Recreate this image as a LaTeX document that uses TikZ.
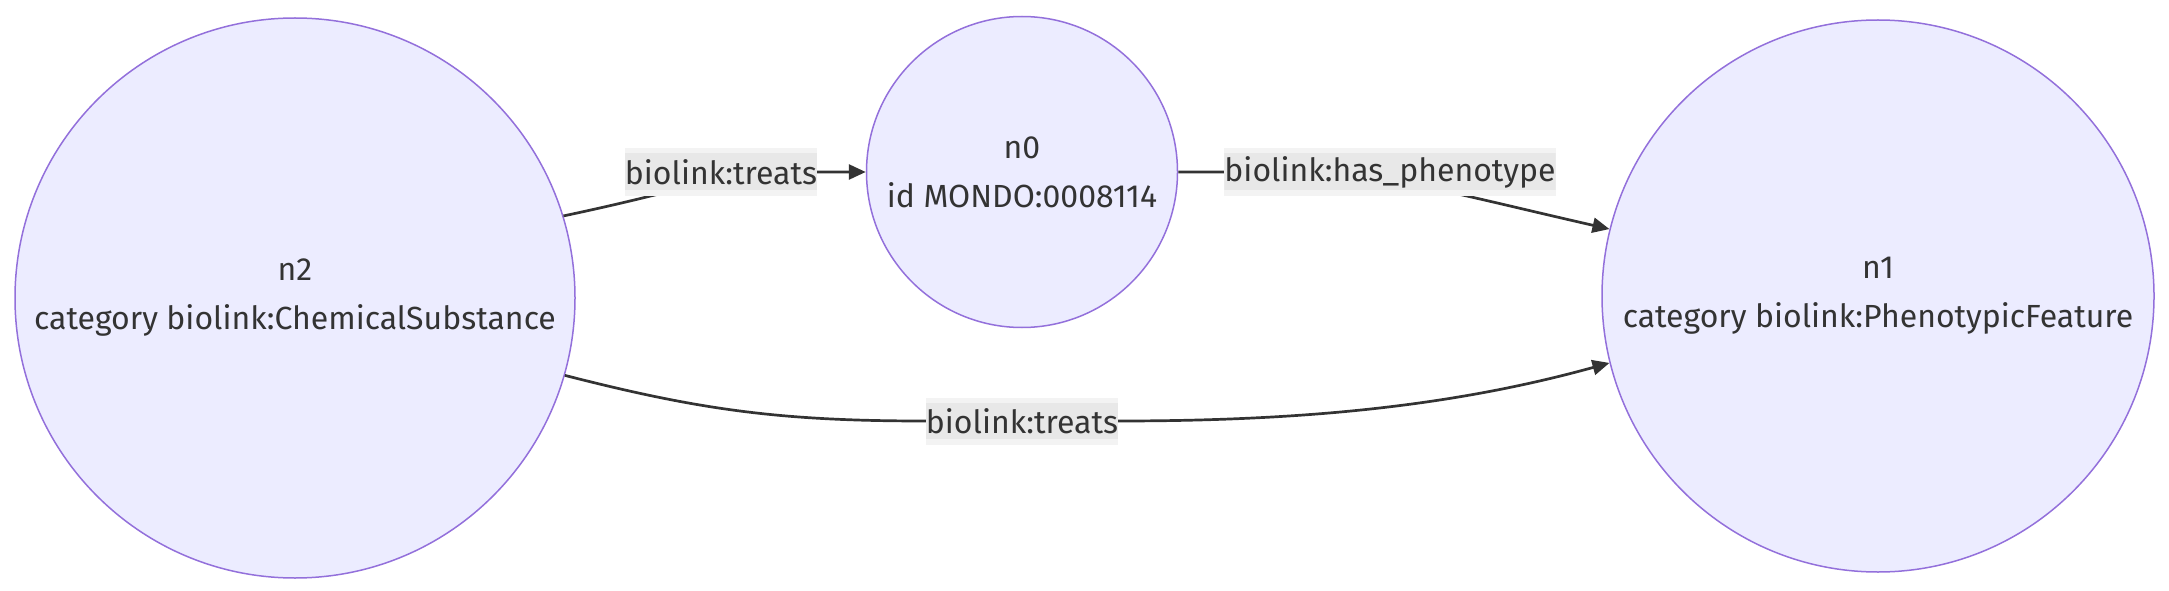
\documentclass[tikz,border=0pt]{standalone}
\usepackage{fontspec}
\setmainfont{Fira Sans}
\usetikzlibrary{arrows.meta}
\definecolor{nodefill}{HTML}{ECECFF}
\definecolor{nodestroke}{HTML}{9370DB}
\definecolor{edgecol}{HTML}{333333}
\definecolor{textcol}{HTML}{333333}
\definecolor{labfill}{HTML}{E8E8E8}
\definecolor{labband}{HTML}{F3F3F3}
\newcommand\mmfont{\fontsize{32}{49}\selectfont}
\begin{document}
\begin{tikzpicture}[x=1pt,y=-1pt,
  entity/.style={circle, draw=nodestroke, fill=nodefill, line width=1.5pt, inner sep=0pt, align=center, text=textcol, font=\mmfont},
  edgeline/.style={draw=edgecol, line width=2.7pt},
  arrowed/.style={-{Triangle[length=17pt,width=15pt]}},
  edgelabel/.style={fill=labband, inner xsep=0pt, inner ysep=0pt, minimum height=47pt, text=textcol, font=\mmfont,
    path picture={\fill[labfill] ([yshift=-5pt]path picture bounding box.north west) rectangle ([yshift=6pt]path picture bounding box.south east);}},
]
\useasboundingbox (0,0) rectangle (2169,591);
\node[entity, minimum size=560pt] (n2) at (295,298) {n2\\category biolink:ChemicalSubstance};
\node[entity, minimum size=311pt] (n0) at (1022,172) {n0\\id MONDO:0008114};
\node[entity, minimum size=552pt] (n1) at (1878,296) {n1\\category biolink:PhenotypicFeature};
\coordinate (c1) at (721,172);
\coordinate (c2) at (1390,172);
\coordinate (c3) at (1022,421);
\draw[edgeline, arrowed] (n2.17) .. controls (705,186) and (720,172) .. (800,172) -- (n0.west);
\draw[edgeline, arrowed] (n0.east) -- (1300,172) .. controls (1380,172) and (1460,195) .. (n1.166);
\draw[edgeline, arrowed] (n2.-16) .. controls (700,410) and (780,421) .. (925,421) -- (1118,421) .. controls (1300,421) and (1450,407) .. (n1.194);
\node[edgelabel] (e1) at (c1) {biolink:treats};
\node[edgelabel] (e2) at (c2) {biolink:has\_phenotype};
\node[edgelabel] (e3) at (c3) {biolink:treats};
\end{tikzpicture}
\end{document}
